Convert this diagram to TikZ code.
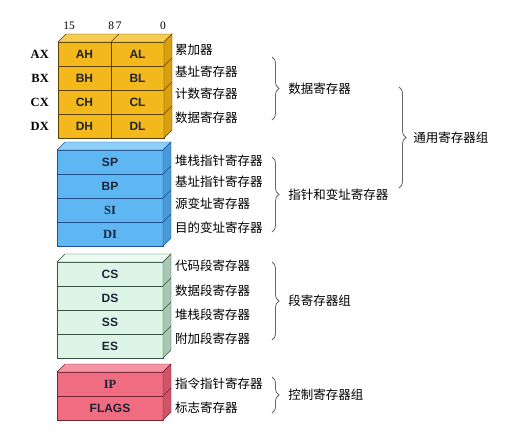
\documentclass[tikz,border=0pt]{standalone}
\usepackage{fontspec}
\setmainfont{Liberation Serif}
\setsansfont{Liberation Sans}
\newfontfamily\cjk{Noto Sans CJK SC}
\usetikzlibrary{positioning, calc, decorations.pathreplacing}

\definecolor{yelFront}{HTML}{F2B81C}
\definecolor{yelTop}{HTML}{F6CC52}
\definecolor{yelSide}{HTML}{D6A012}
\definecolor{yelLine}{HTML}{5A4000}
\definecolor{bluFront}{HTML}{5EB6F2}
\definecolor{bluTop}{HTML}{8CCFF8}
\definecolor{bluSide}{HTML}{4A98D8}
\definecolor{bluLine}{HTML}{1F4E8C}
\definecolor{grnFront}{HTML}{DDF5E6}
\definecolor{grnTop}{HTML}{ECFAF1}
\definecolor{grnSide}{HTML}{A8C8B4}
\definecolor{grnLine}{HTML}{34523F}
\definecolor{redFront}{HTML}{F06C80}
\definecolor{redTop}{HTML}{F594A3}
\definecolor{redSide}{HTML}{CF5468}
\definecolor{redLine}{HTML}{7A2035}
\definecolor{txtDark}{HTML}{1C2438}

\begin{document}
\begin{tikzpicture}[x=1pt, y=-1pt,
    reg/.style={draw, minimum width=53pt, minimum height=24pt, inner sep=0pt, outer sep=0pt,
                text=txtDark, font=\sffamily\bfseries\fontsize{12}{12}\selectfont},
    wide/.style={reg, minimum width=106pt},
    serifreg/.style={font=\bfseries\fontsize{12.5}{12}\selectfont},
    regname/.style={inner sep=0pt, font=\bfseries\fontsize{12.5}{12}\selectfont},
    bitno/.style={inner sep=0pt, font=\fontsize{11.5}{11}\selectfont},
    note/.style={anchor=west, inner sep=0pt, font=\cjk\fontsize{12.5}{12}\selectfont},
    grp/.style={decorate, decoration={brace, amplitude=7pt}, draw=black!60, line width=0.8pt}]

  \useasboundingbox[fill=white] (0,0) rectangle (508,440);

  % general registers, 8 bit halves
  \node (ah) [reg, fill=yelFront, draw=yelLine, anchor=north west] at (58,42) {AH};
  \node (al) [reg, fill=yelFront, draw=yelLine, right=0pt of ah] {AL};
  \node (bh) [reg, fill=yelFront, draw=yelLine, below=0pt of ah] {BH};
  \node (bl) [reg, fill=yelFront, draw=yelLine, right=0pt of bh] {BL};
  \node (ch) [reg, fill=yelFront, draw=yelLine, below=0pt of bh] {CH};
  \node (cl) [reg, fill=yelFront, draw=yelLine, right=0pt of ch] {CL};
  \node (dh) [reg, fill=yelFront, draw=yelLine, below=0pt of ch] {DH};
  \node (dl) [reg, fill=yelFront, draw=yelLine, right=0pt of dh] {DL};

  \filldraw[fill=yelTop, draw=yelLine] (ah.north west) -- ++(8,-8) -- ($(al.north east)+(8,-8)$) -- (al.north east) -- cycle;
  \draw[yelLine] (ah.north east) -- ++(8,-8);
  \filldraw[fill=yelSide, draw=yelLine] (al.north east) -- ++(8,-8) -- ($(dl.south east)+(8,-8)$) -- (dl.south east) -- cycle;
  \foreach \r in {bl, cl, dl}
    \draw[yelLine] (\r.north east) -- ++(8,-8);

  \node (ax) [regname, left=9pt of ah] {AX};
  \node (bx) [regname, left=9pt of bh] {BX};
  \node (cx) [regname, left=9pt of ch] {CX};
  \node (dx) [regname, left=9pt of dh] {DX};

  \node (b15) [bitno] at (69,26) {15};
  \node (b87) [bitno] at (115,26) {8\,7};
  \node (b0)  [bitno] at (163,26) {0};

  % pointer and index registers
  \node (sp) [wide, fill=bluFront, draw=bluLine, anchor=north west] at (57,150) {SP};
  \node (bp) [wide, fill=bluFront, draw=bluLine, below=0pt of sp] {BP};
  \node (si) [wide, fill=bluFront, draw=bluLine, below=0pt of bp, serifreg] {SI};
  \node (di) [wide, fill=bluFront, draw=bluLine, below=0pt of si, serifreg] {DI};

  \filldraw[fill=bluTop, draw=bluLine] (sp.north west) -- ++(8,-8) -- ($(sp.north east)+(8,-8)$) -- (sp.north east) -- cycle;
  \filldraw[fill=bluSide, draw=bluLine] (sp.north east) -- ++(8,-8) -- ($(di.south east)+(8,-8)$) -- (di.south east) -- cycle;
  \foreach \r in {bp, si, di}
    \draw[bluLine] (\r.north east) -- ++(8,-8);

  % segment registers
  \node (cs) [wide, fill=grnFront, draw=grnLine, anchor=north west] at (57,262) {CS};
  \node (ds) [wide, fill=grnFront, draw=grnLine, below=0pt of cs] {DS};
  \node (ss) [wide, fill=grnFront, draw=grnLine, below=0pt of ds] {SS};
  \node (es) [wide, fill=grnFront, draw=grnLine, below=0pt of ss] {ES};

  \filldraw[fill=grnTop, draw=grnLine] (cs.north west) -- ++(8,-8) -- ($(cs.north east)+(8,-8)$) -- (cs.north east) -- cycle;
  \filldraw[fill=grnSide, draw=grnLine] (cs.north east) -- ++(8,-8) -- ($(es.south east)+(8,-8)$) -- (es.south east) -- cycle;
  \foreach \r in {ds, ss, es}
    \draw[grnLine] (\r.north east) -- ++(8,-8);

  % control registers
  \node (ip) [wide, fill=redFront, draw=redLine, anchor=north west, serifreg] at (57,372) {IP};
  \node (flags) [wide, fill=redFront, draw=redLine, below=0pt of ip] {FLAGS};

  \filldraw[fill=redTop, draw=redLine] (ip.north west) -- ++(8,-8) -- ($(ip.north east)+(8,-8)$) -- (ip.north east) -- cycle;
  \filldraw[fill=redSide, draw=redLine] (ip.north east) -- ++(8,-8) -- ($(flags.south east)+(8,-8)$) -- (flags.south east) -- cycle;
  \draw[redLine] (flags.north east) -- ++(8,-8);

  % register descriptions
  \node (nAX) [note] at (175,50)  {累加器};
  \node (nBX) [note] at (175,72)  {基址寄存器};
  \node (nCX) [note] at (175,94)  {计数寄存器};
  \node (nDX) [note] at (175,118) {数据寄存器};
  \node (nSP) [note] at (175,161) {堆栈指针寄存器};
  \node (nBP) [note] at (175,182) {基址指针寄存器};
  \node (nSI) [note] at (175,204) {源变址寄存器};
  \node (nDI) [note] at (175,228) {目的变址寄存器};
  \node (nCS) [note] at (175,266) {代码段寄存器};
  \node (nDS) [note] at (175,291) {数据段寄存器};
  \node (nSS) [note] at (175,315) {堆栈段寄存器};
  \node (nES) [note] at (175,339) {附加段寄存器};
  \node (nIP) [note] at (175,384) {指令指针寄存器};
  \node (nFL) [note] at (175,408) {标志寄存器};

  % groups
  \coordinate (dTop) at (272,57);   \coordinate (dBot) at (272,120);
  \coordinate (pTop) at (272,157);  \coordinate (pBot) at (272,232);
  \coordinate (sTop) at (272,262);  \coordinate (sBot) at (272,340);
  \coordinate (cTop) at (272,377);  \coordinate (cBot) at (272,413);
  \coordinate (gTop) at (399,87);   \coordinate (gBot) at (399,188);

  \draw[grp] (dTop) -- (dBot) node (gData) [note, midway, xshift=16pt] {数据寄存器};
  \draw[grp] (pTop) -- (pBot) node (gPtr) [note, midway, xshift=16pt] {指针和变址寄存器};
  \draw[grp] (sTop) -- (sBot) node (gSeg) [note, midway, xshift=16pt] {段寄存器组};
  \draw[grp] (cTop) -- (cBot) node (gCtl) [note, midway, xshift=16pt] {控制寄存器组};
  \draw[grp] (gTop) -- (gBot) node (gGen) [note, midway, xshift=14pt] {通用寄存器组};

\end{tikzpicture}
\end{document}
